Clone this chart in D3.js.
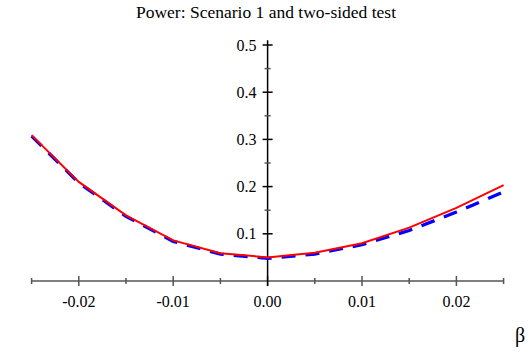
<!DOCTYPE html>
<html lang="en">
<head>
  <meta charset="utf-8">
  <title>Power: Scenario 1 and two-sided test</title>
  <script src="https://d3js.org/d3.v7.min.js"></script>
  <style>
  body { margin: 0; background: #fff; }
  text { font-family: "Liberation Serif", "Times New Roman", serif; }
  </style>
</head>
<body>
<script>
  // beta values and the two power curves
  var beta = [-0.025, -0.02, -0.015, -0.01, -0.005, 0, 0.005, 0.01, 0.015, 0.02, 0.025];
  var powerRed = [0.309, 0.210, 0.139, 0.086, 0.059, 0.050, 0.060, 0.080, 0.113, 0.155, 0.203];
  var powerBlue = [0.307, 0.208, 0.137, 0.084, 0.057, 0.048, 0.057, 0.077, 0.107, 0.146, 0.189];
  var xMajor = [-0.02, -0.01, 0, 0.01, 0.02];
  var xMinor = [-0.025, -0.015, -0.005, 0.005, 0.015, 0.025];
  var yMajor = [0.1, 0.2, 0.3, 0.4, 0.5];
  var yMinor = [0.15, 0.25, 0.35, 0.45];

  var w = 532, h = 354;

  var x = d3.scaleLinear().domain([-0.025, 0.025]).range([31.6, 503.6]);
  var y = d3.scaleLinear().domain([0, 0.5]).range([281, 45]);

  var svg = d3.select('body').append('svg')
    .attr('width', w)
    .attr('height', h);

  svg.append('text')
    .attr('x', 266)
    .attr('y', 18)
    .attr('text-anchor', 'middle')
    .attr('font-size', 17.5)
    .text('Power: Scenario 1 and two-sided test');

  // x axis (grey)
  var gx = svg.append('g').attr('stroke', '#555').attr('stroke-width', 1.5);
  gx.append('line')
    .attr('x1', x(-0.025)).attr('x2', x(0.025))
    .attr('y1', y(0)).attr('y2', y(0));
  gx.selectAll('.maj').data(xMajor).enter().append('line')
    .attr('x1', function(d) { return x(d); }).attr('x2', function(d) { return x(d); })
    .attr('y1', y(0) - 5).attr('y2', y(0) + 5);
  gx.selectAll('.min').data(xMinor).enter().append('line')
    .attr('x1', function(d) { return x(d); }).attr('x2', function(d) { return x(d); })
    .attr('y1', y(0) - 3).attr('y2', y(0) + 3);

  svg.selectAll('.xlab').data(xMajor).enter().append('text')
    .attr('x', function(d) { return x(d); })
    .attr('y', 307)
    .attr('text-anchor', 'middle')
    .attr('font-size', 16)
    .text(function(d) { return d3.format('.2f')(d).replace('\u2212', '-'); });

  // y axis (black) at beta = 0
  var gy = svg.append('g').attr('stroke', '#000').attr('stroke-width', 1.5);
  gy.append('line')
    .attr('x1', x(0)).attr('x2', x(0))
    .attr('y1', y(0) + 5).attr('y2', y(0.51));
  gy.selectAll('.maj').data(yMajor).enter().append('line')
    .attr('x1', x(0) - 5).attr('x2', x(0) + 5)
    .attr('y1', function(d) { return y(d); }).attr('y2', function(d) { return y(d); });
  gy.selectAll('.min').data(yMinor).enter().append('line')
    .attr('x1', x(0) - 3).attr('x2', x(0) + 3)
    .attr('y1', function(d) { return y(d); }).attr('y2', function(d) { return y(d); })
    .attr('stroke', '#555');

  svg.selectAll('.ylab').data(yMajor).enter().append('text')
    .attr('x', x(0) - 11)
    .attr('y', function(d) { return y(d) + 5.5; })
    .attr('text-anchor', 'end')
    .attr('font-size', 16)
    .text(function(d) { return d3.format('.1f')(d); });

  svg.append('text')
    .attr('x', 520)
    .attr('y', 342)
    .attr('text-anchor', 'middle')
    .attr('font-size', 20)
    .text('\u03b2');

  var line = d3.line()
    .x(function(d) { return x(d[0]); })
    .y(function(d) { return y(d[1]); });

  svg.append('path')
    .datum(d3.zip(beta, powerBlue))
    .attr('d', line)
    .attr('fill', 'none')
    .attr('stroke', '#0000ff')
    .attr('stroke-width', 3.3)
    .attr('stroke-dasharray', '14,10');

  svg.append('path')
    .datum(d3.zip(beta, powerRed))
    .attr('d', line)
    .attr('fill', 'none')
    .attr('stroke', '#ff0000')
    .attr('stroke-width', 2);
</script>
</body>
</html>
